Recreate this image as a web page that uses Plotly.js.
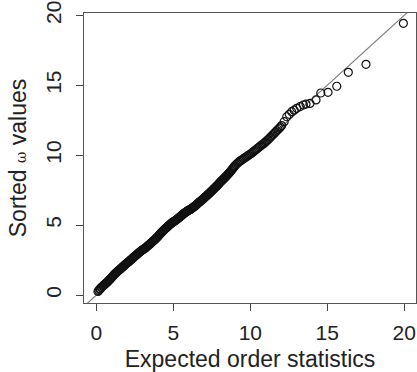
<!DOCTYPE html>
<html>
<head>
<meta charset="utf-8">
<script src="https://cdn.plot.ly/plotly-3.0.1.min.js"></script>
<style>html,body{margin:0;padding:0;background:#fff;}#chart{width:417px;height:372px;}</style>
</head>
<body>
<div id="chart"></div>
<script>
// Expected order statistics (x) and sorted omega values (y)
var expected = [
 0.10,0.15,0.20,0.25,0.30,0.35,0.40,0.45,0.50,0.55,
 0.60,0.65,0.70,0.75,0.80,0.85,0.90,0.95,1.00,1.05,
 1.10,1.15,1.20,1.25,1.30,1.35,1.40,1.45,1.50,1.55,
 1.60,1.65,1.70,1.75,1.80,1.85,1.90,1.95,2.00,2.05,
 2.10,2.15,2.20,2.25,2.30,2.35,2.40,2.45,2.50,2.55,
 2.60,2.65,2.70,2.75,2.80,2.85,2.90,2.95,3.00,3.05,
 3.10,3.15,3.20,3.25,3.30,3.35,3.40,3.45,3.50,3.55,
 3.60,3.65,3.70,3.75,3.80,3.85,3.90,3.95,4.00,4.05,
 4.10,4.15,4.20,4.25,4.30,4.35,4.40,4.45,4.50,4.55,
 4.60,4.65,4.70,4.75,4.80,4.85,4.90,4.95,5.00,5.05,
 5.10,5.15,5.20,5.25,5.30,5.35,5.40,5.45,5.50,5.55,
 5.60,5.65,5.70,5.75,5.80,5.85,5.90,5.95,6.00,6.05,
 6.10,6.15,6.20,6.25,6.30,6.35,6.40,6.45,6.50,6.55,
 6.60,6.65,6.70,6.75,6.80,6.85,6.90,6.95,7.00,7.05,
 7.10,7.15,7.20,7.25,7.30,7.35,7.40,7.45,7.50,7.55,
 7.60,7.65,7.70,7.75,7.80,7.85,7.90,7.95,8.00,8.05,
 8.10,8.15,8.20,8.25,8.30,8.35,8.40,8.45,8.50,8.55,
 8.60,8.65,8.70,8.75,8.80,8.85,8.90,8.95,9.00,
 9.08,9.16,9.24,9.32,9.40,9.48,9.56,9.64,9.72,9.80,
 9.88,9.96,10.04,10.12,10.20,10.28,10.36,10.44,10.52,10.60,
 10.68,10.76,10.84,10.92,11.00,
 11.08,11.16,11.24,11.32,11.40,11.48,11.56,11.64,11.72,11.80,
 11.88,11.96,12.04,12.20,12.37,12.53,12.69,12.85,13.02,
 13.24,13.45,13.62,13.88,14.27,14.58,15.05,
 15.62,16.37,17.52,19.95
];
var sortedOmega = [
 0.26,0.32,0.41,0.44,0.53,0.55,0.63,0.66,0.73,0.77,
 0.82,0.88,0.91,0.99,1.02,1.10,1.14,1.21,1.27,1.33,
 1.39,1.46,1.51,1.57,1.62,1.67,1.71,1.77,1.81,1.86,
 1.90,1.96,2.01,2.06,2.10,2.16,2.20,2.26,2.31,2.35,
 2.38,2.44,2.48,2.54,2.58,2.63,2.68,2.73,2.78,2.83,
 2.88,2.92,2.97,3.02,3.06,3.11,3.15,3.20,3.24,3.27,
 3.29,3.34,3.38,3.43,3.48,3.53,3.57,3.62,3.67,3.72,
 3.78,3.82,3.88,3.92,3.98,4.03,4.08,4.13,4.19,4.25,
 4.33,4.38,4.44,4.50,4.55,4.61,4.66,4.72,4.77,4.82,
 4.87,4.92,4.97,5.02,5.07,5.12,5.16,5.20,5.24,5.27,
 5.30,5.34,5.38,5.43,5.47,5.52,5.56,5.61,5.66,5.71,
 5.75,5.80,5.84,5.88,5.92,5.96,6.00,6.04,6.07,6.10,
 6.12,6.16,6.20,6.24,6.28,6.32,6.36,6.41,6.46,6.51,
 6.56,6.61,6.65,6.70,6.74,6.79,6.84,6.89,6.94,6.99,
 7.04,7.09,7.14,7.19,7.24,7.29,7.34,7.40,7.45,7.50,
 7.56,7.61,7.67,7.73,7.78,7.83,7.89,7.95,8.01,8.08,
 8.13,8.18,8.24,8.29,8.34,8.40,8.46,8.52,8.58,8.64,
 8.70,8.76,8.82,8.89,8.96,9.03,9.10,9.17,9.24,
 9.33,9.42,9.50,9.57,9.63,9.69,9.75,9.81,9.87,9.93,
 9.99,10.05,10.11,10.18,10.25,10.32,10.39,10.46,10.53,10.60,
 10.67,10.74,10.81,10.88,10.96,
 11.04,11.12,11.21,11.30,11.39,11.48,11.57,11.66,11.75,11.84,
 11.93,12.02,12.12,12.40,12.75,12.92,13.11,13.22,13.35,
 13.48,13.59,13.66,13.70,13.95,14.45,14.50,
 14.93,15.93,16.50,19.43
];
// Reference line y = x
var refLineX = [-1, 21];
var refLineY = [-1, 21];
var xTicks = [0, 5, 10, 15, 20];
var yTicks = [0, 5, 10, 15, 20];

var font = 'Liberation Sans, Arial, Helvetica, sans-serif';
var axisCommon = {
  showgrid: false, zeroline: false,
  showline: true, mirror: true, linecolor: '#555', linewidth: 1,
  ticks: 'outside', ticklen: 7, tickwidth: 1, tickcolor: '#444',
  tickfont: {family: font, size: 21, color: '#222'}
};

var traces = [
  {x: refLineX, y: refLineY, type: 'scatter', mode: 'lines',
   line: {color: '#7a7a7a', width: 1.1}, cliponaxis: true, hoverinfo: 'skip'},
  {x: expected, y: sortedOmega, type: 'scatter', mode: 'markers',
   marker: {symbol: 'circle-open', size: 8, color: '#111', line: {width: 1.2, color: '#111'}},
   cliponaxis: true}
];

var layout = {
  width: 417, height: 372,
  margin: {l: 84, r: 1, t: 13, b: 69},
  paper_bgcolor: '#fff', plot_bgcolor: '#fff',
  showlegend: false,
  font: {family: font, color: '#222'},
  xaxis: Object.assign({}, axisCommon, {
    range: [-0.81, 20.77], tickmode: 'array', tickvals: xTicks, ticklabelstandoff: 4,
    title: {text: 'Expected order statistics', font: {family: font, size: 23, color: '#222'}, standoff: 9}
  }),
  yaxis: Object.assign({}, axisCommon, {
    range: [-0.57, 20.17], tickmode: 'array', tickvals: yTicks, tickangle: -90, ticklabelstandoff: 7,
    title: {text: 'Sorted <span style="font-family:DejaVu Serif;font-size:14px">ω</span> values', font: {family: font, size: 23, color: '#222'}, standoff: 8}
  })
};

Plotly.newPlot('chart', traces, layout, {staticPlot: true, displayModeBar: false});
</script>
</body>
</html>
